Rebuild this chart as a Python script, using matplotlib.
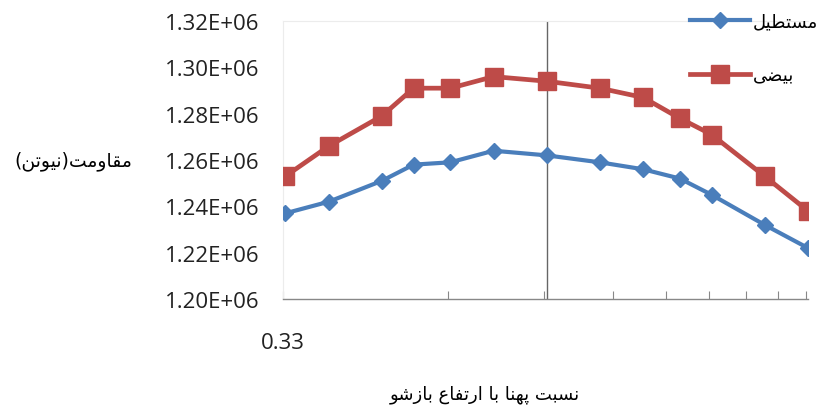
import itertools
import matplotlib
matplotlib.use("Agg")
import matplotlib.pyplot as plt
from matplotlib.ticker import FixedLocator, FuncFormatter, NullFormatter

# width / height ratio of the opening
ratio = [1/3, 0.4, 0.5, 4/7, 2/3, 0.8, 1.0, 1.25, 1.5, 1.75, 2.0, 2.5, 3.0]
# resistance force (N)
rect_force = [1.237e6, 1.242e6, 1.251e6, 1.258e6, 1.259e6, 1.264e6, 1.262e6,
              1.259e6, 1.256e6, 1.252e6, 1.245e6, 1.232e6, 1.222e6]
ellipse_force = [1.253e6, 1.266e6, 1.279e6, 1.291e6, 1.291e6, 1.296e6, 1.294e6,
                 1.291e6, 1.287e6, 1.278e6, 1.271e6, 1.253e6, 1.238e6]

series_names = ["مستطیل", "بیضی"]
y_title = "مقاومت(نیوتن)"
x_title = "نسبت پهنا با ارتفاع بازشو"
y_ticks = [1.20e6, 1.22e6, 1.24e6, 1.26e6, 1.28e6, 1.30e6, 1.32e6]
x_min, x_max, x_cross = 0.33, 3.0, 1.0

# contextual presentation forms: (isolated, final[, initial, medial])
FORMS = {
    "\u0627": ("\uFE8D", "\uFE8E"),
    "\u0628": ("\uFE8F", "\uFE90", "\uFE91", "\uFE92"),
    "\u067E": ("\uFB56", "\uFB57", "\uFB58", "\uFB59"),
    "\u062A": ("\uFE95", "\uFE96", "\uFE97", "\uFE98"),
    "\u0631": ("\uFEAD", "\uFEAE"),
    "\u0632": ("\uFEAF", "\uFEB0"),
    "\u0633": ("\uFEB1", "\uFEB2", "\uFEB3", "\uFEB4"),
    "\u0634": ("\uFEB5", "\uFEB6", "\uFEB7", "\uFEB8"),
    "\u0636": ("\uFEBD", "\uFEBE", "\uFEBF", "\uFEC0"),
    "\u0637": ("\uFEC1", "\uFEC2", "\uFEC3", "\uFEC4"),
    "\u0639": ("\uFEC9", "\uFECA", "\uFECB", "\uFECC"),
    "\u0641": ("\uFED1", "\uFED2", "\uFED3", "\uFED4"),
    "\u0642": ("\uFED5", "\uFED6", "\uFED7", "\uFED8"),
    "\u0644": ("\uFEDD", "\uFEDE", "\uFEDF", "\uFEE0"),
    "\u0645": ("\uFEE1", "\uFEE2", "\uFEE3", "\uFEE4"),
    "\u0646": ("\uFEE5", "\uFEE6", "\uFEE7", "\uFEE8"),
    "\u0647": ("\uFEE9", "\uFEEA", "\uFEEB", "\uFEEC"),
    "\u0648": ("\uFEED", "\uFEEE"),
    "\u06CC": ("\uFBFC", "\uFBFD", "\uFBFE", "\uFBFF"),
}
MIRROR = {"(": ")", ")": "("}


def _shape_run(letters):
    out = []
    n = len(letters)
    for i, ch in enumerate(letters):
        f = FORMS[ch]
        jp = i > 0 and len(FORMS[letters[i - 1]]) == 4
        jn = i < n - 1 and len(f) == 4
        if jp and jn:
            out.append(f[3])
        elif jp:
            out.append(f[1])
        elif jn:
            out.append(f[2])
        else:
            out.append(f[0])
    return "".join(out)


def fa(text):
    """Join letters and lay the line out right-to-left."""
    text = text.replace("\u064A", "\u06CC")
    parts = []
    for is_ar, grp in itertools.groupby(text, key=lambda c: c in FORMS):
        grp = list(grp)
        parts.append(_shape_run(grp) if is_ar else "".join(grp))
    logical = "".join(parts)
    return "".join(MIRROR.get(c, c) for c in reversed(logical))


num_font = "Open Sans"
fa_font = "DejaVu Sans"
blue, red = "#4A7EBB", "#BE4B48"

fig = plt.figure(figsize=(8.2, 4.1), dpi=100)
ax = fig.add_axes([283 / 820, 1 - 300 / 410, 525 / 820, 278 / 410])

ax.plot(ratio, rect_force, color=blue, lw=3.0, marker="D", ms=8,
        mfc=blue, mec=blue, label=fa(series_names[0]), zorder=3)
ax.plot(ratio, ellipse_force, color=red, lw=3.4, marker="s", ms=12.5,
        mfc=red, mec=red, label=fa(series_names[1]), zorder=3)

ax.set_xscale("log")
ax.set_xlim(x_min, x_max)
ax.set_ylim(y_ticks[0], y_ticks[-1])

ax.xaxis.set_major_locator(FixedLocator([x_min]))
ax.xaxis.set_major_formatter(FuncFormatter(lambda v, p: f"{v:.2f}"))
ax.xaxis.set_minor_locator(FixedLocator([x_min * k for k in range(2, 10)]))
ax.xaxis.set_minor_formatter(NullFormatter())
ax.tick_params(axis="x", which="both", direction="in", length=6, width=0.8,
               color="#888888")
ax.tick_params(axis="x", which="major", pad=24, labelsize=16)

ax.yaxis.set_major_locator(FixedLocator(y_ticks))
ax.yaxis.set_major_formatter(FuncFormatter(lambda v, p: f"{v:.2E}"))
ax.tick_params(axis="y", length=0, pad=17, labelsize=16)
for lab in ax.get_xticklabels() + ax.get_yticklabels():
    lab.set_fontfamily(num_font)
    lab.set_color("#222222")

for side in ("top", "left"):
    ax.spines[side].set_color("#ececec")
    ax.spines[side].set_linewidth(0.8)
ax.spines["right"].set_visible(False)
ax.spines["bottom"].set_color("#888888")
ax.spines["bottom"].set_linewidth(1.0)
ax.axvline(x_cross, color="#666666", lw=1.0, zorder=2)

ax.set_ylabel(fa(y_title), rotation=0, fontsize=13.5, family=fa_font,
              ha="center", va="center")
ax.yaxis.set_label_coords(-0.40, 0.5)
ax.set_xlabel(fa(x_title), fontsize=13, family=fa_font, ha="center", va="center")
ax.xaxis.set_label_coords(0.385, -0.34)

leg = fig.legend(loc="upper right", bbox_to_anchor=(1.006, 0.985),
                 frameon=False, prop={"family": fa_font, "size": 13},
                 handlelength=3.3, handletextpad=0.15, labelspacing=2.0,
                 borderaxespad=0)

fig.savefig("out.png", dpi=100)
